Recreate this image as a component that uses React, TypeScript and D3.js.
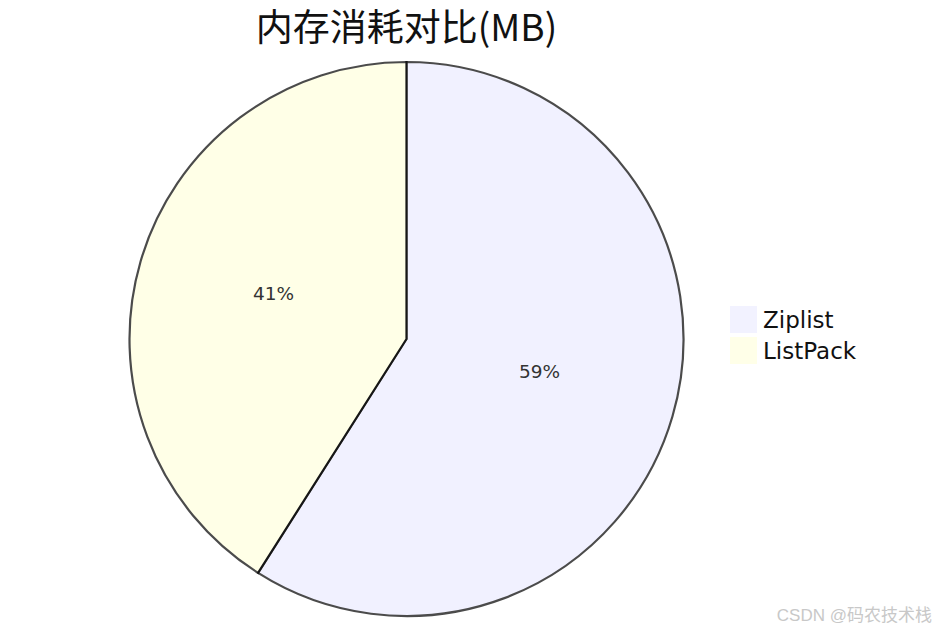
import { useEffect, useRef } from "react";
import * as d3 from "d3";

const labels = ["Ziplist", "ListPack"];
const values = [59, 41];
const colors = ["#ECECFF", "#ffffde"];
const title = "内存消耗对比(MB)";

export default function App() {
  const svgRef = useRef<SVGSVGElement>(null);

  useEffect(() => {
    if (!svgRef.current) return;
    const svg = d3.select(svgRef.current);
    svg.selectAll("*").remove();

    const width = 936, height = 632;
    const cx = 406.5, cy = 339, radius = 277;
    const data = labels.map((l, i) => ({ label: l, value: values[i] }));
    const total = d3.sum(values);

    const pie = d3.pie<(typeof data)[0]>().sort(null).value((d) => d.value);
    const arc = d3.arc<d3.PieArcDatum<(typeof data)[0]>>().innerRadius(0).outerRadius(radius);
    const color = d3.scaleOrdinal<string>().domain(labels).range(colors);

    const g = svg.append("g").attr("transform", `translate(${cx},${cy})`);
    const arcs = pie(data);

    g.selectAll("path")
      .data(arcs)
      .join("path")
      .attr("d", arc as any)
      .attr("fill", (d) => color(d.data.label))
      .attr("stroke", "black")
      .attr("stroke-width", 2.2)
      .attr("opacity", 0.7);

    g.selectAll("text")
      .data(arcs)
      .join("text")
      .attr("transform", (d) => `translate(${arc.centroid(d)})`)
      .attr("text-anchor", "middle")
      .attr("font-family", "DejaVu Sans, sans-serif")
      .attr("font-size", 18.5)
      .attr("fill", "#333")
      .text((d) => `${Math.round((d.data.value / total) * 100)}%`);

    svg.append("text")
      .attr("x", cx)
      .attr("y", 41)
      .attr("text-anchor", "middle")
      .attr("font-family", "Noto Sans CJK SC, sans-serif")
      .attr("font-size", 37)
      .attr("fill", "#111")
      .text(title);

    const legend = svg.append("g").attr("transform", "translate(730,306)");
    const item = legend.selectAll("g").data(labels).join("g").attr("transform", (_, i) => `translate(0,${i * 31})`);
    item.append("rect").attr("width", 27).attr("height", 27).attr("fill", (d) => color(d)).attr("opacity", 0.7);
    item.append("text")
      .attr("x", 33)
      .attr("y", 22)
      .attr("font-family", "DejaVu Sans, sans-serif")
      .attr("font-size", 23)
      .attr("fill", "#111")
      .text((d) => d);

    svg.append("text")
      .attr("x", width - 4)
      .attr("y", height - 11)
      .attr("text-anchor", "end")
      .attr("font-family", "Liberation Sans, Noto Sans CJK SC, sans-serif")
      .attr("font-size", 17)
      .attr("fill", "#c8c8c8")
      .text("CSDN @码农技术栈");
  }, []);

  return (
    <svg
      ref={svgRef}
      width={936}
      height={632}
      style={{ position: "absolute", left: 0, top: 0, background: "#fff" }}
    />
  );
}
